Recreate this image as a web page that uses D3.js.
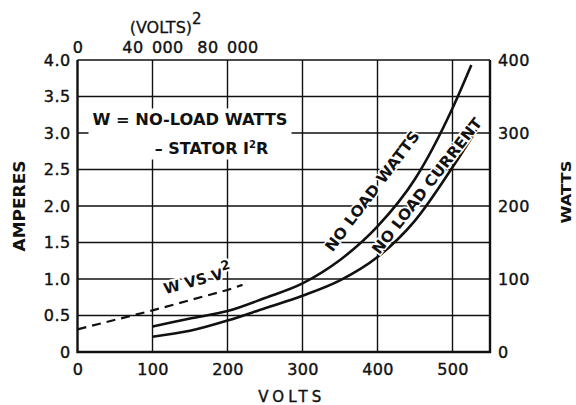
<!DOCTYPE html>
<html>
<head>
<meta charset="utf-8">
<script src="https://cdn.jsdelivr.net/npm/d3@7"></script>
<style>
  body { margin: 0; background: #fff; }
  text { font-family: "DejaVu Sans", sans-serif; fill: #111; }
</style>
</head>
<body>
<div id="chart"></div>
<script>

// values
var wattsVolts  = [100, 150, 200, 250, 300, 350, 400, 450, 500, 525];
var wattsValues = [35, 46, 56, 74, 94, 126, 172, 237, 334, 393];

var ampVolts  = [100, 150, 200, 250, 300, 350, 400, 450, 500, 532];
var ampValues = [0.21, 0.29, 0.43, 0.60, 0.77, 0.98, 1.30, 1.80, 2.53, 3.04];

var voltsSq = [0, 40000, 80000, 88000];
var wattsSq = [31, 57, 85, 92];

var voltTicks   = [0, 100, 200, 300, 400, 500];
var ampTicks    = [0, 0.5, 1.0, 1.5, 2.0, 2.5, 3.0, 3.5, 4.0];
var wattTicks   = [0, 100, 200, 300, 400];
var voltSqTicks = [0, 40000, 80000];

var margin = {top: 60, right: 86, bottom: 53, left: 77.5},
    width = 576 - margin.left - margin.right,
    height = 405 - margin.top - margin.bottom;

var x  = d3.scaleLinear().domain([0, 550]).range([0, width]);
var x2 = d3.scaleLinear().domain([0, 220000]).range([0, width]);
var yA = d3.scaleLinear().domain([0, 4]).range([height, 0]);
var yW = d3.scaleLinear().domain([0, 400]).range([height, 0]);

var svg = d3.select("#chart").append("svg")
        .attr("width", 576)
        .attr("height", 405)
       .append("g")
        .attr("transform", "translate(" + margin.left + "," + margin.top + ")");

// grid
svg.append("g").selectAll("line.h")
    .data(ampTicks.slice(1, -1))
  .enter().append("line")
    .attr("x1", 0).attr("x2", width)
    .attr("y1", function(d) { return yA(d); })
    .attr("y2", function(d) { return yA(d); })
    .style("stroke", "#111").style("stroke-width", 1.4);

svg.append("g").selectAll("line.v")
    .data(voltTicks.slice(1))
  .enter().append("line")
    .attr("y1", 0).attr("y2", height)
    .attr("x1", function(d) { return x(d); })
    .attr("x2", function(d) { return x(d); })
    .style("stroke", "#111").style("stroke-width", 1.4);

// axes (labels only, frame drawn separately)
var fmtA = function(d) { return d === 0 ? "0" : d3.format(".1f")(d); };
var fmtSq = function(d) { return d === 0 ? "0" : d3.format(",")(d).replace(",", "\u2002"); };

svg.append("g").attr("class", "axis")
    .call(d3.axisLeft(yA).tickValues(ampTicks).tickFormat(fmtA).tickSize(0).tickPadding(7));
svg.append("g").attr("class", "axis")
    .attr("transform", "translate(0," + height + ")")
    .call(d3.axisBottom(x).tickValues(voltTicks).tickSize(0).tickPadding(12));
svg.append("g").attr("class", "axis right")
    .attr("transform", "translate(" + width + ",0)")
    .call(d3.axisRight(yW).tickValues(wattTicks).tickSize(0).tickPadding(8));
svg.append("g").attr("class", "axis top")
    .call(d3.axisTop(x2).tickValues(voltSqTicks).tickFormat(fmtSq).tickSize(0).tickPadding(7));

svg.selectAll(".axis path").remove();
svg.selectAll(".axis text")
    .style("font-family", "'DejaVu Sans', sans-serif")
    .style("font-size", "16px")
    .style("letter-spacing", "0.4px")
    .style("fill", "#111")
    .style("stroke", "#111").style("stroke-width", 0.4);

// frame
svg.append("line").attr("x1", 0).attr("x2", width).attr("y1", 0).attr("y2", 0)
    .style("stroke", "#111").style("stroke-width", 1.6);
svg.append("path")
    .attr("d", "M0,0V" + height + "H" + width + "V0")
    .style("fill", "none").style("stroke", "#111").style("stroke-width", 2.4);

// annotation box
var note = svg.append("g");
note.append("text")
    .attr("x", x(20)).attr("y", yA(3.5) + 28)
    .attr("textLength", 195).attr("lengthAdjust", "spacingAndGlyphs")
    .style("font-size", "16px").style("font-weight", "bold")
    .text("W = NO-LOAD WATTS");
var t2 = note.append("text")
    .attr("x", x(103)).attr("y", yA(3.5) + 57)
    .style("font-size", "16px").style("font-weight", "bold");
t2.append("tspan").text("– STATOR I");
t2.append("tspan").attr("dy", -6).style("font-size", "10px").text("2");
t2.append("tspan").attr("dy", 6).text("R");
var bb = note.node().getBBox();
note.insert("rect", "text")
    .attr("x", bb.x - 4).attr("y", bb.y - 1)
    .attr("width", bb.width + 8).attr("height", bb.height + 3)
    .style("fill", "#fff");

// curves
var line = d3.line().curve(d3.curveMonotoneX);

svg.append("path")
    .datum(wattsVolts.map(function(v, i) { return [x(v), yW(wattsValues[i])]; }))
    .attr("d", line)
    .style("fill", "none").style("stroke", "#111").style("stroke-width", 2.6);

svg.append("path")
    .datum(ampVolts.map(function(v, i) { return [x(v), yA(ampValues[i])]; }))
    .attr("d", line)
    .style("fill", "none").style("stroke", "#111").style("stroke-width", 2.6);

svg.append("path")
    .datum(voltsSq.map(function(v, i) { return [x2(v), yW(wattsSq[i])]; }))
    .attr("d", d3.line())
    .style("fill", "none").style("stroke", "#111").style("stroke-width", 2.2)
    .style("stroke-dasharray", "9,6");

// curve labels
function curveLabel(txt, v, w, ang, len, off) {
    svg.append("text")
        .attr("transform", "translate(" + x(v) + "," + yW(w) + ") rotate(" + ang + ") translate(0," + off + ")")
        .attr("text-anchor", "middle")
        .attr("textLength", len).attr("lengthAdjust", "spacingAndGlyphs")
        .style("font-size", "15px").style("font-weight", "bold")
        .style("stroke", "#fff").style("stroke-width", 3).style("paint-order", "stroke")
        .text(txt);
}
curveLabel("NO LOAD WATTS", 405, 211, -53, 146, -6);
curveLabel("NO LOAD CURRENT", 464, 229, -52, 168, 7);

var wv = svg.append("text")
    .attr("transform", "translate(" + x(117) + "," + (yA(0.75) - 3) + ") rotate(-15)")
    .style("font-size", "15px").style("font-weight", "bold")
    .style("stroke", "#fff").style("stroke-width", 4).style("paint-order", "stroke");
wv.append("tspan").text("W VS V");
wv.append("tspan").attr("dy", -8).style("font-size", "13px").text("2");

// axis titles
svg.append("text")
    .attr("transform", "translate(" + (-margin.left + 25) + "," + (height / 2) + ") rotate(-90)")
    .attr("text-anchor", "middle")
    .attr("textLength", 91).attr("lengthAdjust", "spacingAndGlyphs")
    .style("font-size", "16px").style("font-weight", "bold")
    .text("AMPERES");

svg.append("text")
    .attr("transform", "translate(" + (width + 86 - 5) + "," + (yW(200) - 14) + ") rotate(-90)")
    .attr("text-anchor", "middle")
    .attr("textLength", 63).attr("lengthAdjust", "spacingAndGlyphs")
    .style("font-size", "14px").style("font-weight", "bold")
    .text("WATTS");

svg.append("text")
    .attr("x", x(283)).attr("y", height + 50)
    .attr("text-anchor", "middle")
    .attr("textLength", 63).attr("lengthAdjust", "spacing")
    .style("font-size", "15px")
    .style("stroke", "#111").style("stroke-width", 0.4)
    .text("VOLTS");

var vt = svg.append("text")
    .attr("x", x2(47000)).attr("y", -27)
    .attr("text-anchor", "middle")
    .style("font-size", "16px")
    .style("stroke", "#111").style("stroke-width", 0.3);
vt.append("tspan").text("(VOLTS)");
vt.append("tspan").attr("dy", -9).style("font-size", "15px").text("2");

</script>
</body>
</html>
